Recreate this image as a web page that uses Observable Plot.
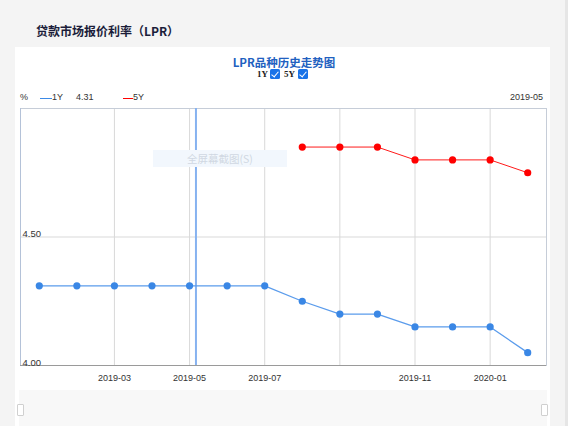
<!DOCTYPE html>
<html><head><meta charset="utf-8">
<script src="https://cdn.jsdelivr.net/npm/d3@7"></script>
<script src="https://cdn.jsdelivr.net/npm/@observablehq/plot@0.6"></script>
<style>
html,body{margin:0;padding:0;}
body{width:568px;height:426px;background:#f4f4f4;position:relative;overflow:hidden;font-family:"Liberation Sans",Arial,sans-serif;color:#333;}
.abs{position:absolute;}
#strip{left:565px;top:0;width:3px;height:426px;background:#e6e6e6;}
#title{left:36px;top:22px;font-family:"Noto Sans CJK SC",sans-serif;font-weight:bold;font-size:12px;color:#1b1d3a;white-space:nowrap;}
#panel{left:15px;top:47px;width:535px;height:379px;background:#fff;}
#ctitle{left:0;width:568px;top:54px;text-align:center;font-family:"Noto Sans CJK SC",serif;font-weight:bold;font-size:11.5px;color:#2160c0;white-space:nowrap;}
.tg{top:69px;font-family:"Liberation Serif",serif;font-weight:bold;font-size:9px;color:#222;white-space:nowrap;}
.cb{top:69px;width:10px;height:10px;background:#1a73e8;border-radius:1.5px;}
.cb::after{content:"";position:absolute;left:3px;top:0.5px;width:3px;height:6px;border:solid #fff;border-width:0 1.6px 1.6px 0;transform:rotate(40deg);}
.leg{top:92px;font-size:9px;white-space:nowrap;color:#333;}
.ln{position:absolute;height:1px;top:98px;}
#tip{left:153px;top:150px;width:134px;height:17px;background:#f2f7fd;color:#d0d8e2;font-family:"Noto Sans CJK SC",sans-serif;font-size:10.5px;line-height:17px;text-align:center;}
#scroll{left:19px;top:390px;width:528px;height:36px;background:#f8f8f8;}
.hd{top:404px;width:5px;height:10px;background:#fff;border:1px solid #d0d0d0;border-radius:1px;}
#chart{left:0;top:100px;}
</style></head><body>
<div class="abs" id="strip"></div>
<div class="abs" id="panel"></div>
<div class="abs" id="title">贷款市场报价利率（LPR）</div>
<div class="abs" id="ctitle">LPR品种历史走势图</div>
<div class="abs tg" style="left:257px">1Y</div>
<div class="abs cb" style="left:270px"></div>
<div class="abs tg" style="left:284px">5Y</div>
<div class="abs cb" style="left:298px"></div>
<div class="abs leg" style="left:20px">%</div>
<div class="abs ln" style="left:40px;width:12px;background:#3d8ae6"></div>
<div class="abs leg" style="left:52px">1Y</div>
<div class="abs leg" style="left:76px" id="legval"></div>
<div class="abs ln" style="left:123px;width:10px;background:#f00"></div>
<div class="abs leg" style="left:133px">5Y</div>
<div class="abs leg" style="left:510px" id="legmonth"></div>
<div class="abs" id="chart"></div>
<div class="abs" id="tip">全屏幕截图(S)</div>
<div class="abs" id="scroll"></div>
<div class="abs hd" style="left:17px"></div>
<div class="abs hd" style="left:541px"></div>
<script>
const months = ["2019-01","2019-02","2019-03","2019-04","2019-05","2019-06","2019-07","2019-08","2019-09","2019-10","2019-11","2019-12","2020-01","2020-02"];
const rate1Y = [4.31,4.31,4.31,4.31,4.31,4.31,4.31,4.25,4.20,4.20,4.15,4.15,4.15,4.05];
const months5Y = ["2019-08","2019-09","2019-10","2019-11","2019-12","2020-01","2020-02"];
const rate5Y = [4.85,4.85,4.85,4.80,4.80,4.80,4.75];
const gridMonths = ["2019-03","2019-05","2019-07","2019-09","2019-11","2020-01"];
const labeledMonths = ["2019-03","2019-05","2019-07","2019-11","2020-01"];
const yTicks = [4.00, 4.50];
const yDomain = [4.0, 5.0];
const cursorMonth = "2019-05";
const cursorFraction = 0.17;

const idx = m => months.indexOf(m);
const d1 = months.map((m,i)=>({x:idx(m), y:rate1Y[i]}));
const d5 = months5Y.map((m,i)=>({x:idx(m), y:rate5Y[i]}));
const cursorX = idx(cursorMonth) + cursorFraction;

document.getElementById("legval").textContent = rate1Y[idx(cursorMonth)].toFixed(2);
document.getElementById("legmonth").textContent = cursorMonth;

const chart = Plot.plot({
  width:568, height:290,
  marginLeft:20, marginRight:22, marginTop:8, marginBottom:25,
  style:{background:"transparent", fontFamily:"Liberation Sans, Arial, sans-serif", fontSize:"9px", color:"#333"},
  x:{type:"linear", domain:[-0.5, months.length-0.5], axis:null},
  y:{domain:yDomain, axis:null},
  marks:[
    Plot.ruleX(gridMonths.map(idx), {stroke:"#d9d9d9", strokeWidth:1}),
    Plot.ruleY([4.5], {stroke:"#d9d9d9", strokeWidth:1}),
    Plot.frame({stroke:"#c6cdd8"}),
    Plot.ruleX([-0.5], {stroke:"#b4c2d8"}),
    Plot.ruleY([yDomain[0]], {stroke:"#9a9a9a"}),
    Plot.ruleX([cursorX], {stroke:"#86b2f0", strokeWidth:2}),
    Plot.line(d1, {x:"x", y:"y", stroke:"#5b9cec", strokeWidth:1.3}),
    Plot.dot(d1, {x:"x", y:"y", r:3.6, fill:"#3a87e5", stroke:"none"}),
    Plot.line(d5, {x:"x", y:"y", stroke:"#ff1a1a", strokeWidth:1}),
    Plot.dot(d5, {x:"x", y:"y", r:3.6, fill:"#ff0000", stroke:"none"}),
    Plot.text(yTicks, {y:d=>d, frameAnchor:"left", text:d=>d.toFixed(2), textAnchor:"start", lineAnchor:"bottom", dx:2, dy:0, fontSize:9.5, fill:"#333"}),
    Plot.text(labeledMonths.map(idx), {x:d=>d, frameAnchor:"bottom", text:d=>months[d], lineAnchor:"top", dy:9, fontSize:9, fill:"#333"})
  ]
});
document.getElementById("chart").appendChild(chart);
</script>
</body></html>
